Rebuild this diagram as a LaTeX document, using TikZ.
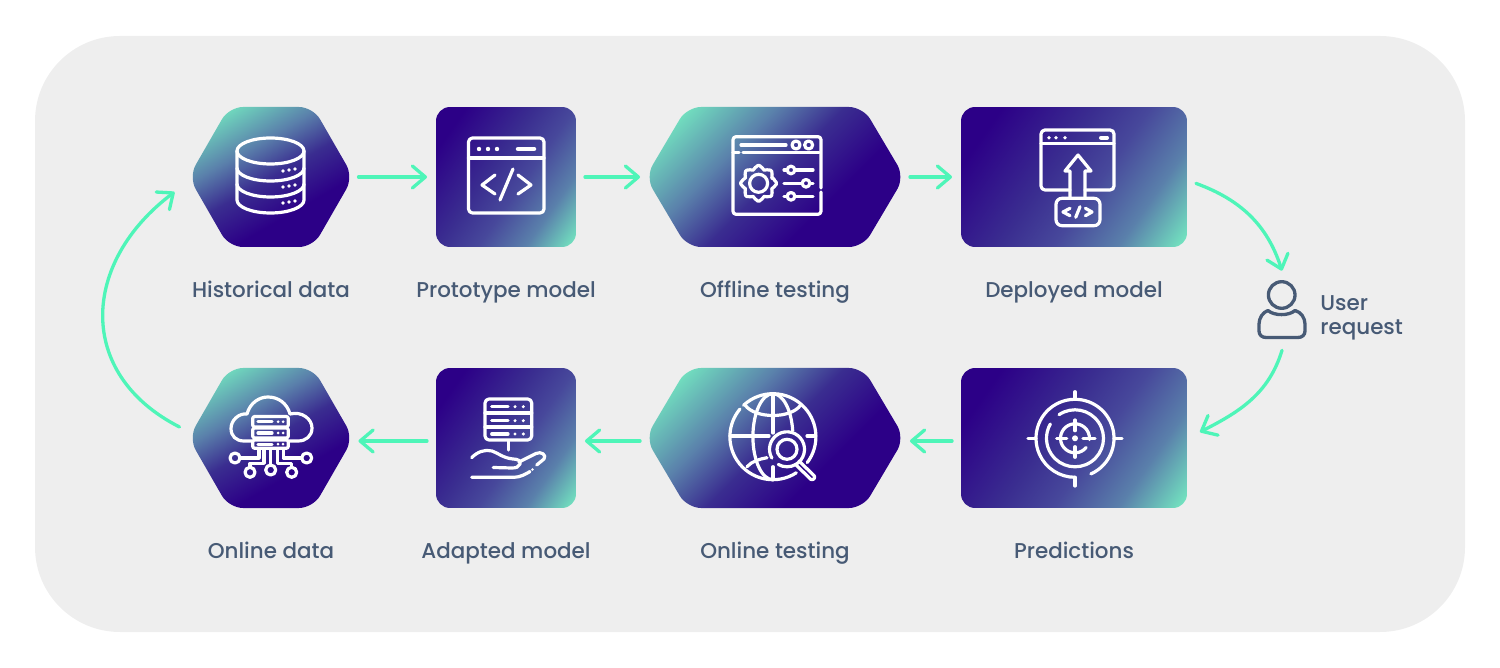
\documentclass[tikz,border=0pt]{standalone}
\usepackage{fontspec}
\setmainfont{Poppins Medium}
\usepackage{xcolor}
\usetikzlibrary{arrows.meta, positioning}

\definecolor{panelgrey}{HTML}{EEEEEE}
\definecolor{deeppurple}{HTML}{2C0087}
\definecolor{darkpurple}{HTML}{3A2D90}
\definecolor{midpurple}{HTML}{47489B}
\definecolor{midblue}{HTML}{5A80AB}
\definecolor{softteal}{HTML}{72E0BF}
\definecolor{flowgreen}{HTML}{4EF5B8}
\definecolor{slatetext}{HTML}{475A75}

\pgfdeclarehorizontalshading{boxshade}{100bp}{color(0bp)=(deeppurple); color(24bp)=(deeppurple); color(44bp)=(darkpurple); color(56bp)=(midpurple); color(70bp)=(midblue); color(83bp)=(softteal); color(100bp)=(softteal)}
\pgfdeclarehorizontalshading{hexshade}{100bp}{color(0bp)=(softteal); color(22bp)=(softteal); color(38bp)=(midblue); color(50bp)=(darkpurple); color(64bp)=(deeppurple); color(100bp)=(deeppurple)}

% hexagon body: centre x, centre y, half width, half top edge, shading angle
\newcommand{\hexbody}[5]{
  \path[hexfill, shading angle=#5, shift={(#1,#2)}] (-#3,0) -- (-#4,-70) -- (#4,-70) -- (#3,0) -- (#4,70) -- (-#4,70) -- cycle;
}

\begin{document}
\begin{tikzpicture}[
  x=0.02cm, y=-0.02cm,
  stagebox/.style={rectangle, inner sep=0pt, outer sep=0.18cm, minimum height=2.8cm},
  boxstage/.style={stagebox, shade, shading=boxshade, shading angle=-35, rounded corners=0.28cm},
  hexfill/.style={shade, shading=hexshade, rounded corners=0.28cm},
  caption/.style={inner sep=0pt, text=slatetext, font=\fontsize{12.2}{14}\selectfont, text height=0.3cm, text depth=0.08cm},
  flow/.style={draw=flowgreen, line width=0.066cm, line cap=round, -{Straight Barb[round, length=0.26cm, width=0.44cm]}},
  iconline/.style={draw=white, line width=0.064cm, line cap=round, line join=round},
  icondot/.style={fill=white},
  personline/.style={draw=slatetext, line width=0.066cm, line cap=round, line join=round}
]

\useasboundingbox (0,0) rectangle (1500,668);
\fill[panelgrey, rounded corners=1.7cm] (35,36) rectangle (1465,632);

% Stages, top row
\hexbody{271}{177}{82.3}{42}{-60}
\node[stagebox, minimum width=3.14cm] (hist) at (271,177) {};
\node[boxstage, minimum width=2.8cm] (proto) at (506,177) {};
\hexbody{775}{177}{129.5}{88}{-45}
\node[stagebox, minimum width=5.04cm] (offline) at (775,177) {};
\node[boxstage, minimum width=4.52cm] (deploy) at (1074,177) {};

% Stages, bottom row
\hexbody{271}{438}{82.3}{42}{-60}
\node[stagebox, minimum width=3.14cm] (onldata) at (271,438) {};
\node[boxstage, minimum width=2.8cm] (adapt) at (506,438) {};
\hexbody{775}{438}{129.5}{88}{-45}
\node[stagebox, minimum width=5.04cm] (onltest) at (775,438) {};
\node[boxstage, minimum width=4.52cm] (predict) at (1074,438) {};

% Captions
\node[caption, below=0.53cm of hist] (histlabel) {Historical data};
\node[caption, below=0.53cm of proto] (protolabel) {Prototype model};
\node[caption, below=0.53cm of offline] (offlinelabel) {Offline testing};
\node[caption, below=0.53cm of deploy] (deploylabel) {Deployed model};
\node[caption, below=0.53cm of onldata] (onldatalabel) {Online data};
\node[caption, below=0.53cm of adapt] (adaptlabel) {Adapted model};
\node[caption, below=0.53cm of onltest] (onltestlabel) {Online testing};
\node[caption, below=0.53cm of predict] (predictlabel) {Predictions};

% User
\node[inner sep=0pt, minimum width=0.92cm, minimum height=1.58cm] (user) at (1282,310.5) {};
\node[caption, anchor=west, align=left, text height=, text depth=, font=\fontsize{12.2}{13.6}\selectfont] (userlabel) at (1320,318) {User\\request};
\draw[personline] (1281.7,295) circle (13.3);
\draw[personline] (1268,310.5) .. controls (1274,316) and (1289,316) .. (1295,310.5) .. controls (1301,312) and (1305,318) .. (1305,324) -- (1305,331) .. controls (1305,335) and (1302,337.5) .. (1298,337.5) -- (1266,337.5) .. controls (1262,337.5) and (1259,335) .. (1259,331) -- (1259,324) .. controls (1259,318) and (1263,312) .. (1268,310.5) -- cycle;

% Connectors
\draw[flow] (hist) -- (proto);
\draw[flow] (proto) -- (offline);
\draw[flow] (offline) -- (deploy);
\draw[flow] (deploy.-3) to[out=-20, in=108] (user.north);
\draw[flow] (user.south) to[out=-107, in=27] ([shift={(4,-6)}]predict.east);
\draw[flow] ([yshift=-0.06cm]predict.west) -- ([yshift=-0.06cm]onltest.east);
\draw[flow] ([yshift=-0.06cm]onltest.west) -- ([yshift=-0.06cm]adapt.east);
\draw[flow] ([yshift=-0.06cm]adapt.west) -- ([yshift=-0.06cm]onldata.east);
\draw[flow] ([shift={(-4,-11)}]onldata.west) to[out=153, in=-143, looseness=1.27] ([shift={(-9,15)}]hist.west);

% Database icon
\draw[iconline] (270.5,151) ellipse (33.5 and 13);
\draw[iconline] (237,151) -- (237,200) arc[start angle=180, end angle=0, x radius=33.5, y radius=13] -- (304,151);
\draw[iconline] (237,168) arc[start angle=180, end angle=0, x radius=33.5, y radius=13];
\draw[iconline] (237,184) arc[start angle=180, end angle=0, x radius=33.5, y radius=13];
\foreach \rowy in {171,187,203} {
  \fill[icondot] (283,\rowy) circle (1.9);
  \fill[icondot] (289,\rowy-1) circle (1.9);
  \fill[icondot] (295,\rowy-2) circle (1.9);
}

% Code window icon
\draw[iconline, rounded corners=0.08cm] (468.5,138) rectangle (544,213);
\draw[iconline] (468.5,158) -- (544,158);
\foreach \dotx in {479,488,497} {
  \fill[icondot] (\dotx,149) circle (2.2);
}
\draw[iconline, line width=0.09cm] (518,149) -- (534,149);
\draw[iconline] (495,175) -- (482,185) -- (495,194);
\draw[iconline] (518,175) -- (531,185) -- (518,194);
\draw[iconline] (513,169) -- (500,200);

% Settings window icon
\draw[iconline, rounded corners=0.06cm] (821,188) -- (821,136.7) -- (733,136.7) -- (733,214.3) -- (821,214.3) -- (821,192);
\draw[iconline] (733,152.7) -- (739,152.7);
\draw[iconline] (743,152.7) -- (819,152.7);
\draw[iconline] (741,145) -- (786,145);
\draw[iconline] (796,145) circle (4);
\draw[iconline] (808.6,145) circle (4);
\begin{scope}[shift={(758.6,183.3)}]
  \draw[iconline, rounded corners=0.04cm] (-14:14.5) \foreach \g in {0,45,...,315} {-- (\g-14:14.5) -- (\g-9:18) -- (\g+9:18) -- (\g+14:14.5)} -- cycle;
  \draw[iconline] (0,0) circle (9);
\end{scope}
\draw[iconline] (784,170) -- (787,170);
\draw[iconline] (795,170) -- (813,170);
\draw[iconline] (791,170) circle (3.8);
\draw[iconline] (784,183.3) -- (802,183.3);
\draw[iconline] (810,183.3) -- (813,183.3);
\draw[iconline] (806,183.3) circle (3.8);
\draw[iconline] (784,196.3) -- (787,196.3);
\draw[iconline] (795,196.3) -- (813,196.3);
\draw[iconline] (791,196.3) circle (3.8);

% Upload icon
\draw[iconline, rounded corners=0.08cm] (1070,190) -- (1041,190) -- (1041,130) -- (1114,130) -- (1114,190) -- (1085,190);
\draw[iconline] (1041,143.3) -- (1114,143.3);
\foreach \dotx in {1049,1056,1065} {
  \fill[icondot] (\dotx,137.7) circle (1.9);
}
\draw[iconline, line width=0.08cm] (1101,137.7) -- (1107,137.7);
\draw[iconline] (1070,198.3) -- (1070,171) -- (1065,171) -- (1078,155) -- (1091,171) -- (1085,171) -- (1085,198.3);
\draw[iconline, rounded corners=0.12cm] (1056,198.3) rectangle (1100,225.7);
\draw[iconline] (1070,208.3) -- (1063,212) -- (1070,215.7);
\draw[iconline] (1085.4,208.3) -- (1092,212) -- (1085.4,215.7);
\draw[iconline] (1080,206.7) -- (1075.7,217.3);

% Cloud icon
\draw[iconline] (252,441) -- (244,441) .. controls (236,441) and (231,436) .. (231,428.5) .. controls (231,420) and (239,413) .. (247,414) .. controls (250,403) and (259,397) .. (268,397) .. controls (278,397) and (287,403) .. (290,414) .. controls (302,411) and (312,419) .. (312,428) .. controls (312,436) and (306,441) .. (298,441) -- (289,441);
\foreach \boxtop/\boxbot in {416.5/427,428/438,440/448.3} {
  \draw[iconline, rounded corners=0.04cm] (252.7,\boxtop) rectangle (288.3,\boxbot);
  \draw[iconline] (258,{(\boxtop+\boxbot)/2}) -- (272,{(\boxtop+\boxbot)/2});
  \fill[icondot] (278,{(\boxtop+\boxbot)/2}) circle (1.5);
  \fill[icondot] (283,{(\boxtop+\boxbot)/2}) circle (1.5);
}
\draw[iconline] (235,458) circle (5);
\draw[iconline] (306.7,458) circle (5);
\draw[iconline] (250,472.3) circle (5);
\draw[iconline] (270.7,470) circle (5);
\draw[iconline] (291.7,472.3) circle (5);
\draw[iconline] (240,458) -- (259,458) -- (259,449);
\draw[iconline] (301.7,458) -- (283.3,458) -- (283.3,449);
\draw[iconline] (250,467.3) -- (250,463.3) -- (264,463.3) -- (264,449);
\draw[iconline] (270.7,465) -- (270.7,449);
\draw[iconline] (291.7,467.3) -- (291.7,463.3) -- (277.7,463.3) -- (277.7,449);

% Server in hand icon
\draw[iconline, rounded corners=0.08cm] (485,399) rectangle (531.7,440);
\draw[iconline] (485,413) -- (531.7,413);
\draw[iconline] (485,427) -- (531.7,427);
\foreach \rowy in {406.7,420.7,434} {
  \draw[iconline] (491.7,\rowy) -- (508,\rowy);
  \fill[icondot] (515,\rowy) circle (1.7);
  \fill[icondot] (523.3,\rowy) circle (1.7);
}
\draw[iconline] (508.3,441) -- (508.3,450);
\draw[iconline] (471.7,457.7) .. controls (477,452) and (485,449) .. (492,451) .. controls (498,453) and (503,458) .. (513,459) .. controls (518,459) and (521,461) .. (520,464) .. controls (519,467) and (516,468) .. (512,468) -- (493.3,467.5);
\draw[iconline] (519,462) -- (536,453.5) .. controls (541,451) and (547,455) .. (544,459) -- (536.7,465);
\draw[iconline] (471.7,477.3) -- (514,477.3) .. controls (520,477.3) and (526,474) .. (530,471.5);
\fill[icondot] (532.5,469.5) circle (1.4);

% Globe icon
\draw[iconline] (772.9,436.7) ++(-133:43) arc[start angle=-133, end angle=37, radius=43];
\draw[iconline] (772.9,436.7) ++(57:43) arc[start angle=57, end angle=220, radius=43];
\draw[iconline] (772.9,393.7) arc[start angle=-90, end angle=-270, x radius=20, y radius=43];
\draw[iconline] (772.9,393.7) arc[start angle=-90, end angle=-8, x radius=20, y radius=43];
\draw[iconline] (772.9,393.7) -- (772.9,433);
\draw[iconline] (772.9,466.7) -- (772.9,479.7);
\draw[iconline] (730,436) -- (769,436);
\draw[iconline] (807,436) -- (815.7,436);
\draw[iconline] (745,405) .. controls (755,419) and (791,419) .. (800.7,405);
\draw[iconline] (747,466.7) .. controls (752,461) and (760,459) .. (767,457.7);
\draw[iconline] (787,449.3) circle (10);
\draw[iconline] (787,449.3) ++(150:17.5) arc[start angle=150, end angle=480, radius=17.5];
\draw[iconline, rounded corners=0.03cm] (799,461) -- (815.5,477) -- (812,480.5) -- (795.5,464.5);

% Target icon
\draw[iconline] (1075,438.3) ++(66:39) arc[start angle=66, end angle=-270, radius=39];
\draw[iconline] (1075,391.7) -- (1075,399);
\draw[iconline] (1028,438.3) -- (1036,438.3);
\draw[iconline] (1114,438.3) -- (1122,438.3);
\draw[iconline] (1075,477.3) -- (1075,486);
\draw[iconline] (1075,438.3) ++(-124:28.5) arc[start angle=-124, end angle=210, radius=28.5];
\draw[iconline] (1075,438.3) ++(40:14.5) arc[start angle=40, end angle=365, radius=14.5];
\draw[iconline] (1075,420) -- (1075,430.7);
\draw[iconline] (1075,446.7) -- (1075,457.3);
\draw[iconline] (1056.7,438.3) -- (1066.7,438.3);
\draw[iconline] (1083,438.3) -- (1095,438.3);
\fill[icondot] (1075,438.3) circle (3);

\end{tikzpicture}
\end{document}
